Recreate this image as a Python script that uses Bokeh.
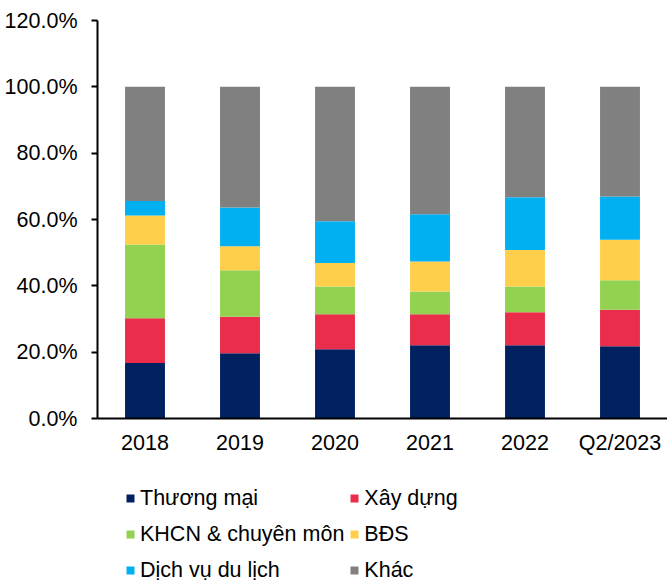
from bokeh.plotting import figure
from bokeh.layouts import column
from bokeh.models import ColumnDataSource, FactorRange, FixedTicker, NumeralTickFormatter, Legend, Range1d
from bokeh.embed import file_html
from bokeh.resources import INLINE

categories = ["2018", "2019", "2020", "2021", "2022", "Q2/2023"]
series_names = ["Thương mại", "Xây dựng", "KHCN & chuyên môn", "BĐS", "Dịch vụ du lịch", "Khác"]
thuong_mai = [16.7, 19.7, 20.9, 22.1, 22.1, 21.8]
xay_dung = [13.5, 11.0, 10.5, 9.3, 9.9, 11.0]
khcn = [22.3, 14.0, 8.4, 6.9, 7.8, 8.9]
bds = [8.7, 7.2, 7.1, 9.0, 11.0, 12.2]
dich_vu = [4.4, 11.7, 12.6, 14.3, 15.9, 13.0]
khac = [34.4, 36.4, 40.5, 38.4, 33.3, 33.1]
colors = ["#002060", "#E92D4B", "#93D150", "#FFCF4C", "#00B0F0", "#808080"]
y_ticks = [0, 20, 40, 60, 80, 100, 120]

series = [thuong_mai, xay_dung, khcn, bds, dich_vu, khac]
keys = ["s%d" % i for i in range(len(series))]
data = {"cat": categories}
for k, s in zip(keys, series):
    data[k] = [v / 100.0 for v in s]
source = ColumnDataSource(data)

FONT = "Liberation Sans"
FS = "21.5px"

p = figure(
    x_range=FactorRange(factors=categories, range_padding=0),
    y_range=Range1d(0, y_ticks[-1] / 100.0),
    width=667, height=460,
    output_backend="svg", toolbar_location=None,
    min_border_left=97, min_border_right=0, min_border_top=20, min_border_bottom=42,
)
p.outline_line_color = None
p.background_fill_color = "white"
p.border_fill_color = "white"

p.vbar_stack(keys, x="cat", width=0.42, color=colors, source=source, line_color=None)

# axes
p.yaxis.ticker = FixedTicker(ticks=[t / 100.0 for t in y_ticks])
p.yaxis.formatter = NumeralTickFormatter(format="0.0%")
p.yaxis.major_tick_in = 0
p.yaxis.major_tick_out = 6
p.yaxis.minor_tick_line_color = None
p.yaxis.axis_line_width = 2
p.yaxis.major_tick_line_width = 2
p.yaxis.axis_line_color = "black"
p.yaxis.major_label_standoff = 14
p.yaxis.major_label_text_font = FONT
p.yaxis.major_label_text_font_size = FS
p.yaxis.major_label_text_color = "black"

p.xaxis.major_tick_line_color = None
p.xaxis.minor_tick_line_color = None
p.xaxis.major_tick_out = 0
p.xaxis.axis_line_width = 2
p.xaxis.axis_line_color = "black"
p.xaxis.major_label_standoff = 12
p.xaxis.major_label_text_font = FONT
p.xaxis.major_label_text_font_size = FS
p.xaxis.major_label_text_color = "black"

p.xgrid.grid_line_color = None
p.ygrid.ticker = FixedTicker(ticks=[y_ticks[-1] / 100.0])
p.ygrid.grid_line_color = "black"
p.ygrid.grid_line_width = 2
p.ygrid.grid_line_alpha = 1.0

# legend panel (same series drawn outside its visible range; only the legend shows)
leg_fig = figure(
    x_range=FactorRange(factors=categories, range_padding=0),
    y_range=Range1d(5, 6),
    width=667, height=122,
    output_backend="svg", toolbar_location=None,
    x_axis_location=None, y_axis_location=None,
    min_border_left=0, min_border_right=0, min_border_top=0, min_border_bottom=0,
)
leg_fig.outline_line_color = None
leg_fig.xgrid.grid_line_color = None
leg_fig.ygrid.grid_line_color = None
leg_renderers = leg_fig.vbar_stack(keys, x="cat", width=0.42, color=colors, source=source,
                                   line_color=None)

legend = Legend(
    items=[(name, [r]) for name, r in zip(series_names, leg_renderers)],
    orientation="horizontal", ncols=2,
    location=(28, -3.5),
    label_text_font=FONT, label_text_font_size=FS, label_text_color="black",
    glyph_width=10, glyph_height=10, label_standoff=5,
    label_height=31, spacing=5,
    margin=0, padding=0,
    border_line_color=None, background_fill_alpha=0,
)
leg_fig.add_layout(legend, "center")

layout = column(p, leg_fig, spacing=0)
open("out.html", "w").write(file_html(layout, INLINE))
